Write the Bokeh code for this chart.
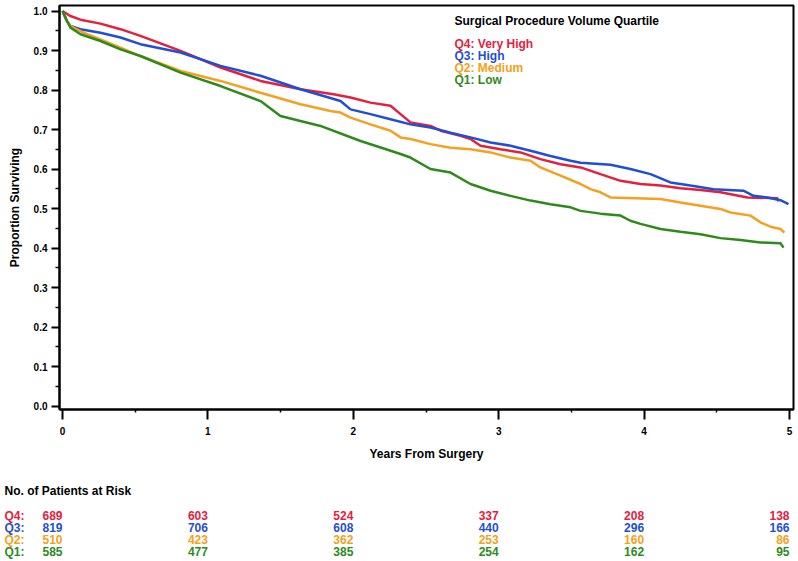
from bokeh.plotting import figure
from bokeh.models import Range1d, FixedTicker, PrintfTickFormatter
from bokeh.layouts import column
from bokeh.embed import file_html
from bokeh.resources import INLINE
from bokeh.core.properties import value

FONT = "Liberation Sans"

# ---------------- data ----------------
group_labels = ["Q4:  Very  High", "Q3:  High", "Q2:  Medium", "Q1:  Low"]
row_labels = ["Q4:", "Q3:", "Q2:", "Q1:"]
colors = ["#e3213d", "#1f4fd2", "#f4a020", "#2e8a1a"]

q4_t = [0, 0.05, 0.124, 0.261, 0.399, 0.536, 0.674, 0.812, 1.087, 1.362, 1.637,
        1.864, 1.981, 2.118, 2.256, 2.325, 2.393, 2.531, 2.600, 2.737, 2.806, 2.875,
        3.012, 3.150, 3.287, 3.425, 3.563, 3.700, 3.838, 3.975, 4.113, 4.250, 4.388,
        4.525, 4.711, 4.917, 4.924]
q4_s = [1.0, 0.988, 0.978, 0.968, 0.954, 0.937, 0.918, 0.899, 0.857, 0.823, 0.802,
        0.789, 0.781, 0.768, 0.760, 0.739, 0.718, 0.709, 0.697, 0.684, 0.676, 0.659,
        0.650, 0.642, 0.625, 0.612, 0.604, 0.587, 0.570, 0.562, 0.558, 0.551, 0.547,
        0.541, 0.528, 0.526, 0.518]

q3_t = [0, 0.03, 0.055, 0.124, 0.261, 0.399, 0.536, 0.812, 1.087, 1.362, 1.637,
        1.912, 1.981, 2.118, 2.256, 2.393, 2.531, 2.669, 2.806, 2.944, 3.081, 3.219,
        3.356, 3.494, 3.563, 3.769, 3.906, 4.044, 4.181, 4.319, 4.477, 4.683, 4.752,
        4.849, 4.938, 4.993]
q3_s = [1.0, 0.975, 0.962, 0.954, 0.945, 0.933, 0.916, 0.895, 0.861, 0.836, 0.802,
        0.772, 0.751, 0.739, 0.726, 0.713, 0.705, 0.692, 0.680, 0.667, 0.659, 0.646,
        0.633, 0.621, 0.616, 0.611, 0.600, 0.587, 0.566, 0.558, 0.549, 0.545, 0.532,
        0.528, 0.521, 0.511]

q2_t = [0, 0.03, 0.055, 0.144, 0.261, 0.399, 0.536, 0.812, 1.087, 1.362, 1.637,
        1.843, 1.912, 1.981, 2.118, 2.256, 2.325, 2.393, 2.531, 2.669, 2.806, 2.944,
        3.081, 3.219, 3.287, 3.425, 3.563, 3.631, 3.700, 3.769, 4.113, 4.250, 4.388,
        4.525, 4.594, 4.732, 4.800, 4.869, 4.938, 4.965]
q2_s = [1.0, 0.975, 0.962, 0.945, 0.928, 0.907, 0.886, 0.848, 0.823, 0.793, 0.764,
        0.747, 0.743, 0.730, 0.713, 0.697, 0.680, 0.676, 0.663, 0.654, 0.650, 0.642,
        0.629, 0.621, 0.604, 0.583, 0.562, 0.549, 0.541, 0.528, 0.524, 0.515, 0.507,
        0.499, 0.490, 0.482, 0.465, 0.454, 0.448, 0.439]

q1_t = [0, 0.03, 0.055, 0.124, 0.261, 0.399, 0.536, 0.812, 1.087, 1.362, 1.499,
        1.774, 2.050, 2.325, 2.393, 2.531, 2.669, 2.806, 2.944, 3.081, 3.219, 3.356,
        3.494, 3.563, 3.700, 3.838, 3.906, 3.975, 4.113, 4.250, 4.388, 4.525, 4.663,
        4.800, 4.938, 4.959]
q1_s = [1.0, 0.975, 0.958, 0.941, 0.924, 0.903, 0.886, 0.844, 0.810, 0.772, 0.734,
        0.709, 0.671, 0.638, 0.629, 0.600, 0.591, 0.562, 0.545, 0.532, 0.520, 0.511,
        0.503, 0.494, 0.487, 0.482, 0.469, 0.461, 0.448, 0.441, 0.435, 0.425, 0.420,
        0.414, 0.412, 0.401]

series_t = [q4_t, q3_t, q2_t, q1_t]
series_s = [q4_s, q3_s, q2_s, q1_s]

x_ticks = [0, 1, 2, 3, 4, 5]
x_minor = [0.5, 1.5, 2.5, 3.5, 4.5]
y_ticks = [0.0, 0.1, 0.2, 0.3, 0.4, 0.5, 0.6, 0.7, 0.8, 0.9, 1.0]
y_minor = [0.05, 0.15, 0.25, 0.35, 0.45, 0.55, 0.65, 0.75, 0.85, 0.95]

risk_years = [0, 1, 2, 3, 4, 5]
risk_q4 = [689, 603, 524, 337, 208, 138]
risk_q3 = [819, 706, 608, 440, 296, 166]
risk_q2 = [510, 423, 362, 253, 160, 86]
risk_q1 = [585, 477, 385, 254, 162, 95]
risk_rows = [risk_q4, risk_q3, risk_q2, risk_q1]

legend_title = "Surgical Procedure Volume Quartile"
risk_title = "No. of Patients at Risk"

# ---------------- layout constants (canvas pixels) ----------------
W, H = 798, 561
H_MAIN = 470
PX_PER_YEAR = 145.4        # horizontal scale
X0_PX = 62.0               # x of year 0
FRAME_LEFT, FRAME_RIGHT = 59, 793
PX_PER_UNIT = 395.0        # vertical scale
Y0_PX = 405.5              # y of proportion 0
FRAME_TOP, FRAME_BOTTOM = 5, 409


def px2x(px):
    return (px - X0_PX) / PX_PER_YEAR


def py2y(py):
    return (Y0_PX - py) / PX_PER_UNIT


p = figure(width=W, height=H_MAIN,
           x_range=Range1d(px2x(FRAME_LEFT), px2x(FRAME_RIGHT)),
           y_range=Range1d(py2y(FRAME_BOTTOM), py2y(FRAME_TOP)),
           output_backend="svg", toolbar_location=None,
           min_border_left=FRAME_LEFT, min_border_right=W - FRAME_RIGHT,
           min_border_top=FRAME_TOP, min_border_bottom=H_MAIN - FRAME_BOTTOM)
p.frame_align = False
p.grid.visible = False
p.outline_line_color = "black"
p.outline_line_width = 2
p.background_fill_color = "white"
p.border_fill_color = "white"

for ax in (p.xaxis[0], p.yaxis[0]):
    ax.axis_line_width = 2
    ax.axis_line_color = "black"
    ax.major_tick_line_width = 2
    ax.minor_tick_line_width = 1.5
    ax.major_tick_in = 0
    ax.minor_tick_in = 0
    ax.major_label_text_font = FONT
    ax.major_label_text_font_style = "bold"
    ax.major_label_text_font_size = "10px"
    ax.major_label_text_color = "black"
    ax.axis_label_text_font = FONT
    ax.axis_label_text_font_style = "bold"
    ax.axis_label_text_font_size = "12px"
    ax.axis_label_text_color = "black"

p.xaxis.ticker = FixedTicker(ticks=x_ticks, minor_ticks=x_minor)
p.xaxis.major_tick_out = 10
p.xaxis.minor_tick_out = 3
p.xaxis.major_label_standoff = 7
p.xaxis.axis_label = "Years From Surgery"
p.xaxis.axis_label_standoff = 9

p.yaxis.ticker = FixedTicker(ticks=y_ticks, minor_ticks=y_minor)
p.yaxis.formatter = PrintfTickFormatter(format="%.1f")
p.yaxis.major_tick_out = 8
p.yaxis.minor_tick_out = 4
p.yaxis.major_label_standoff = 4
p.yaxis.axis_label = "Proportion Surviving"
p.yaxis.axis_label_standoff = 9

for t, s, c in zip(series_t, series_s, colors):
    p.line(t, s, line_color=c, line_width=2.5)

TXT = dict(text_font=value(FONT), text_font_style="bold", text_font_size="12px",
           text_baseline="middle")

# legend texts (inside the frame)
lx = px2x(454)
p.text(x=[lx], y=[py2y(20)], text=[legend_title], text_color="black",
       text_align="left", **TXT)
leg_py = [43.3, 55.3, 67.3, 79.3]
for lab, c, yy in zip(group_labels, colors, leg_py):
    p.text(x=[lx], y=[py2y(yy)], text=[lab], text_color=c, text_align="left", **TXT)

# ---------------- risk table (second figure, full-canvas frame) ----------------
tf = figure(width=W, height=H - H_MAIN,
            x_range=Range1d(px2x(0), px2x(W)),
            y_range=Range1d(py2y(H), py2y(H_MAIN)),
            output_backend="svg", toolbar_location=None,
            x_axis_location=None, y_axis_location=None,
            min_border_left=0, min_border_right=0, min_border_top=0, min_border_bottom=0)
tf.frame_align = False
tf.grid.visible = False
tf.outline_line_color = None
tf.background_fill_color = "white"
tf.border_fill_color = "white"

tf.text(x=[px2x(4)], y=[py2y(490.7)], text=[risk_title], text_color="black",
        text_align="left", **TXT)
row_py = [515, 527, 539, 551]
for lab, counts, c, yy in zip(row_labels, risk_rows, colors, row_py):
    tf.text(x=[px2x(4)], y=[py2y(yy)], text=[lab], text_color=c, text_align="left", **TXT)
    tf.text(x=risk_years, y=[py2y(yy)] * len(risk_years), text=[str(v) for v in counts],
            text_color=c, text_align="right", **TXT)

layout = column(p, tf, spacing=0)
open("out.html", "w").write(file_html(layout, INLINE))
